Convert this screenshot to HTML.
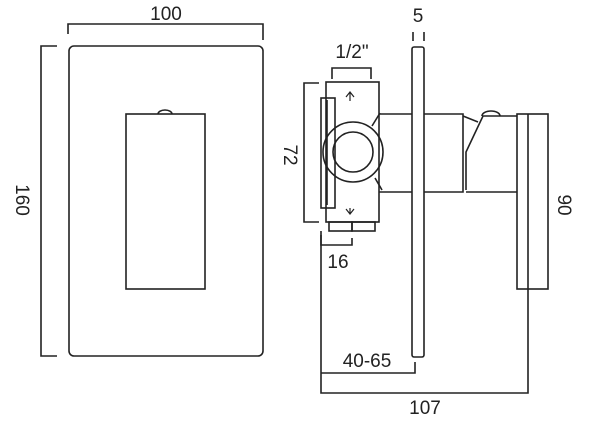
<!DOCTYPE html>
<html><head><style>html,body{margin:0;padding:0;background:#fff;}svg{display:block}</style></head>
<body>
<svg width="600" height="441" viewBox="0 0 600 441" xmlns="http://www.w3.org/2000/svg" font-family="Liberation Sans, sans-serif" fill="none" stroke="#222" stroke-width="1.6">
<!-- front view -->
<rect x="69" y="46" width="194" height="310" rx="5"/>
<rect x="126" y="114" width="79" height="175"/>
<path d="M158 114 a7 4 0 0 1 14 0"/>
<path d="M68 34 V24 H263 V40"/>
<path d="M57 46 H41 V356 H57"/>
<text x="166" y="20" font-size="19" fill="#222" stroke="none" text-anchor="middle">100</text>
<text transform="translate(16,200) rotate(90)" font-size="19" fill="#222" stroke="none" text-anchor="middle">160</text>
<!-- side view -->
<text x="418" y="22" font-size="19" fill="#222" stroke="none" text-anchor="middle">5</text>
<path d="M413 41 V32 M424 32 V41"/>
<rect x="412" y="47" width="12" height="310" rx="2"/>
<text x="352" y="58" font-size="19" fill="#222" stroke="none" text-anchor="middle">1/2"</text>
<path d="M332 79 V68 H371 V79"/>
<rect x="326" y="82" width="53" height="140"/>
<rect x="329" y="222" width="23" height="9"/><rect x="352" y="222" width="23" height="9"/>
<rect x="321" y="98" width="14" height="110"/>
<path d="M327 100 V205"/>
<circle cx="353" cy="152" r="30"/>
<circle cx="353" cy="152" r="20"/>
<path d="M372 126 L380 113 M375 178 L382 190"/>
<path d="M350 92 V101 M346 97 L350 92 L354 97 M350 208 V214 M346 209 L350 214 L354 209" stroke-width="1.2"/>
<path d="M319 83 H304 V222 H319"/>
<text transform="translate(284,155) rotate(90)" font-size="19" fill="#222" stroke="none" text-anchor="middle">72</text>
<path d="M321 235 V245 H352 V238"/>
<text x="338" y="268" font-size="19" fill="#222" stroke="none" text-anchor="middle">16</text>
<path d="M379 114 H412 M424 114 H463 V192 H424 M412 192 H379"/>
<path d="M463 116 L478 122 M466 190 V152 L483 116 H517 M466 192 H517"/>
<path d="M482 116 a9 5 0 0 1 18 0"/>
<rect x="517" y="114" width="31" height="175"/>
<path d="M528 114 V289"/>
<path d="M321 231 V393 H528 V289"/>
<path d="M321 373 H415 V362"/>
<text x="367" y="367" font-size="19" fill="#222" stroke="none" text-anchor="middle">40-65</text>
<text x="425" y="414" font-size="19" fill="#222" stroke="none" text-anchor="middle">107</text>
<text transform="translate(558,205) rotate(90)" font-size="19" fill="#222" stroke="none" text-anchor="middle">90</text>
</svg>
</body></html>
